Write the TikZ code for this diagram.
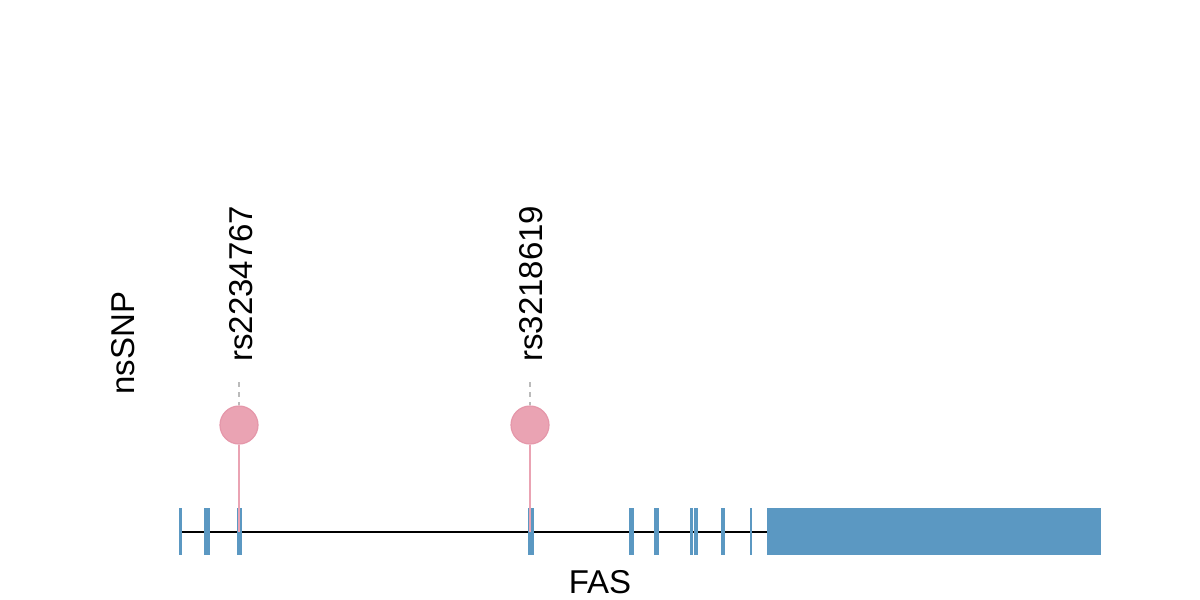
\documentclass[tikz,border=0pt]{standalone}
\usepackage{fontspec}
\setmainfont{Liberation Sans}
\definecolor{exonblue}{HTML}{5B98C2}
\definecolor{snppink}{HTML}{EAA3B3}
\definecolor{snpedge}{HTML}{E597AA}
\definecolor{dotgrey}{HTML}{BBBBBB}
\begin{document}
\begin{tikzpicture}[x=0.5pt,y=-0.5pt,
  exon/.style={fill=exonblue,draw=none},
  snp/.style={circle,fill=snppink,draw=snpedge,line width=0.6pt,minimum size=19pt,inner sep=0pt},
  stem/.style={draw=snppink,line width=1pt},
  guide/.style={draw=dotgrey,dashed,dash pattern=on 2.5pt off 2.5pt,line width=0.6pt},
  lab/.style={font=\fontsize{16.5}{18}\selectfont,inner sep=0pt}]
\useasboundingbox (0,0) rectangle (1200,600);
% backbone
\coordinate (gs) at (180,532);
\coordinate (ge) at (1101,532);
\draw[line width=1pt] (gs) -- (ge);
% exons
\foreach \a/\b in {179/182,204/210,237/242,528/534,629/634,654/659,690/693,694/698,721/725,750/752}
  \fill[exon] (\a,508) rectangle (\b,555);
\fill[exon] (767,508) rectangle (1101,555);
% SNPs
\coordinate (b1) at (239,532);
\coordinate (b2) at (530,532);
\node[snp] (s1) at (239,425) {};
\node[snp] (s2) at (530,425) {};
\draw[stem] (s1.south) -- (b1);
\draw[stem] (s2.south) -- (b2);
\coordinate (d1) at (239,382);
\coordinate (d2) at (530,382);
\draw[guide] (d1) -- (s1.north);
\draw[guide] (d2) -- (s2.north);
\node[lab,rotate=90,anchor=west] (l1) at (241,362) {rs2234767};
\node[lab,rotate=90,anchor=west] (l2) at (531,362) {rs3218619};
\node[lab,rotate=90] (ns) at (123,343) {nsSNP};
\node[lab] (fas) at (600,582) {FAS};
\end{tikzpicture}
\end{document}
